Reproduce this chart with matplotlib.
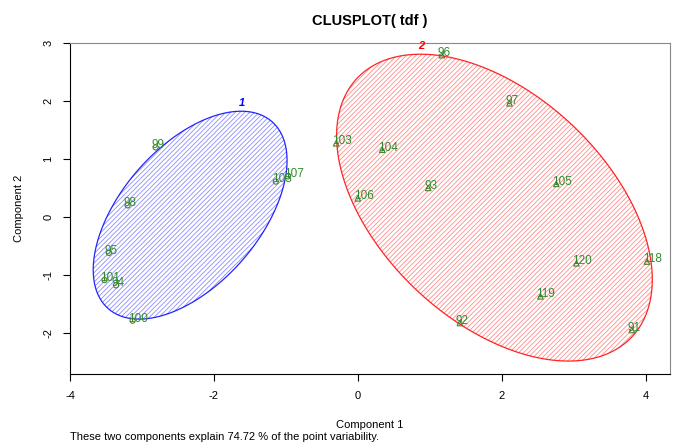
import numpy as np
import matplotlib
matplotlib.use('Agg')
import matplotlib.pyplot as plt
from matplotlib.patches import Polygon

plt.rcParams['font.family'] = ['Liberation Sans', 'DejaVu Sans']
plt.rcParams['axes.unicode_minus'] = False
plt.rcParams['hatch.linewidth'] = 0.6

# points (component 1, component 2)
labels1 = ['99', '98', '95', '101', '94', '100', '103', '107']
x1 = [-2.81, -3.20, -3.46, -3.52, -3.36, -3.13, -1.14, -0.97]
y1 = [1.20, 0.20, -0.62, -1.09, -1.18, -1.79, 0.61, 0.70]

labels2 = ['96', '97', '103', '104', '93', '106', '105', '120', '118', '119', '92', '91']
x2 = [1.17, 2.11, -0.30, 0.34, 0.98, 0.00, 2.76, 3.04, 4.02, 2.54, 1.42, 3.81]
y2 = [2.79, 1.96, 1.27, 1.16, 0.50, 0.32, 0.57, -0.80, -0.77, -1.37, -1.83, -1.95]

# cluster ellipses: centre and shape matrix
centre1 = [-2.33, 0.03]
shape1 = [[1.815, 1.27], [1.27, 3.215]]
centre2 = [1.90, 0.16]
shape2 = [[4.815, -2.72], [-2.72, 7.005]]

variability = 74.72


def ellipse_pts(c, S, n=200):
    t = np.linspace(0, 2 * np.pi, n)
    L = np.linalg.cholesky(np.array(S))
    u = np.vstack([np.cos(t), np.sin(t)])
    p = L @ u
    return np.column_stack([c[0] + p[0], c[1] + p[1]])


fig = plt.figure(figsize=(6.73, 4.46), dpi=100)
ax = fig.add_axes([0.104, 0.1614, 0.8915, 0.7422])

for c, S, col, name in [(centre1, shape1, 'blue', '1'), (centre2, shape2, 'red', '2')]:
    pts = ellipse_pts(c, S)
    ax.add_patch(Polygon(pts, closed=True, facecolor='none', edgecolor=col,
                         hatch='///////', linewidth=0, alpha=0.45))
    ax.add_patch(Polygon(pts, closed=True, fill=False, edgecolor=col, linewidth=0.9, alpha=0.85))
    top = pts[np.argmax(pts[:, 1])]
    ax.annotate(name, top, xytext=(0, 2), textcoords='offset points', ha='center', va='bottom',
                color=col, fontsize=8, fontweight='bold', style='italic')

green = '#2f8a2f'
ax.scatter(x1, y1, marker='o', s=14, facecolors='none', edgecolors='#4f7f30', linewidths=0.8, zorder=3)
ax.scatter(x2, y2, marker='^', s=16, facecolors='none', edgecolors='#4f7f30', linewidths=0.8, zorder=3)
for lab, xs, ys in [(labels1, x1, y1), (labels2, x2, y2)]:
    for t, a, b in zip(lab, xs, ys):
        ax.annotate(t, (a, b), xytext=(-3, 1.5), textcoords='offset points', ha='left', va='center',
                    color=green, fontsize=8.5, zorder=4)

ax.set_xlim(-4.0, 4.34)
ax.set_ylim(-2.71, 3.0)
ax.set_xticks([-4, -2, 0, 2, 4])
ax.set_yticks([-2, -1, 0, 1, 2, 3])
ax.tick_params(labelsize=8, length=5, width=0.8, pad=7)
for lbl in ax.get_yticklabels():
    lbl.set_rotation(90)
    lbl.set_va('center')
for s in ax.spines.values():
    s.set_color('#888888')
ax.spines['left'].set_color('black')
ax.spines['bottom'].set_color('black')

ax.set_title('CLUSPLOT( tdf )', fontsize=10.5, fontweight='bold', pad=13)
ax.set_xlabel('Component 1', fontsize=8, labelpad=14)
ax.set_ylabel('Component 2', fontsize=8, labelpad=14)
fig.text(0.104, 0.02, 'These two components explain %.2f %% of the point variability.' % variability,
         fontsize=8, ha='left', va='center')

fig.savefig('out.png', dpi=100)
